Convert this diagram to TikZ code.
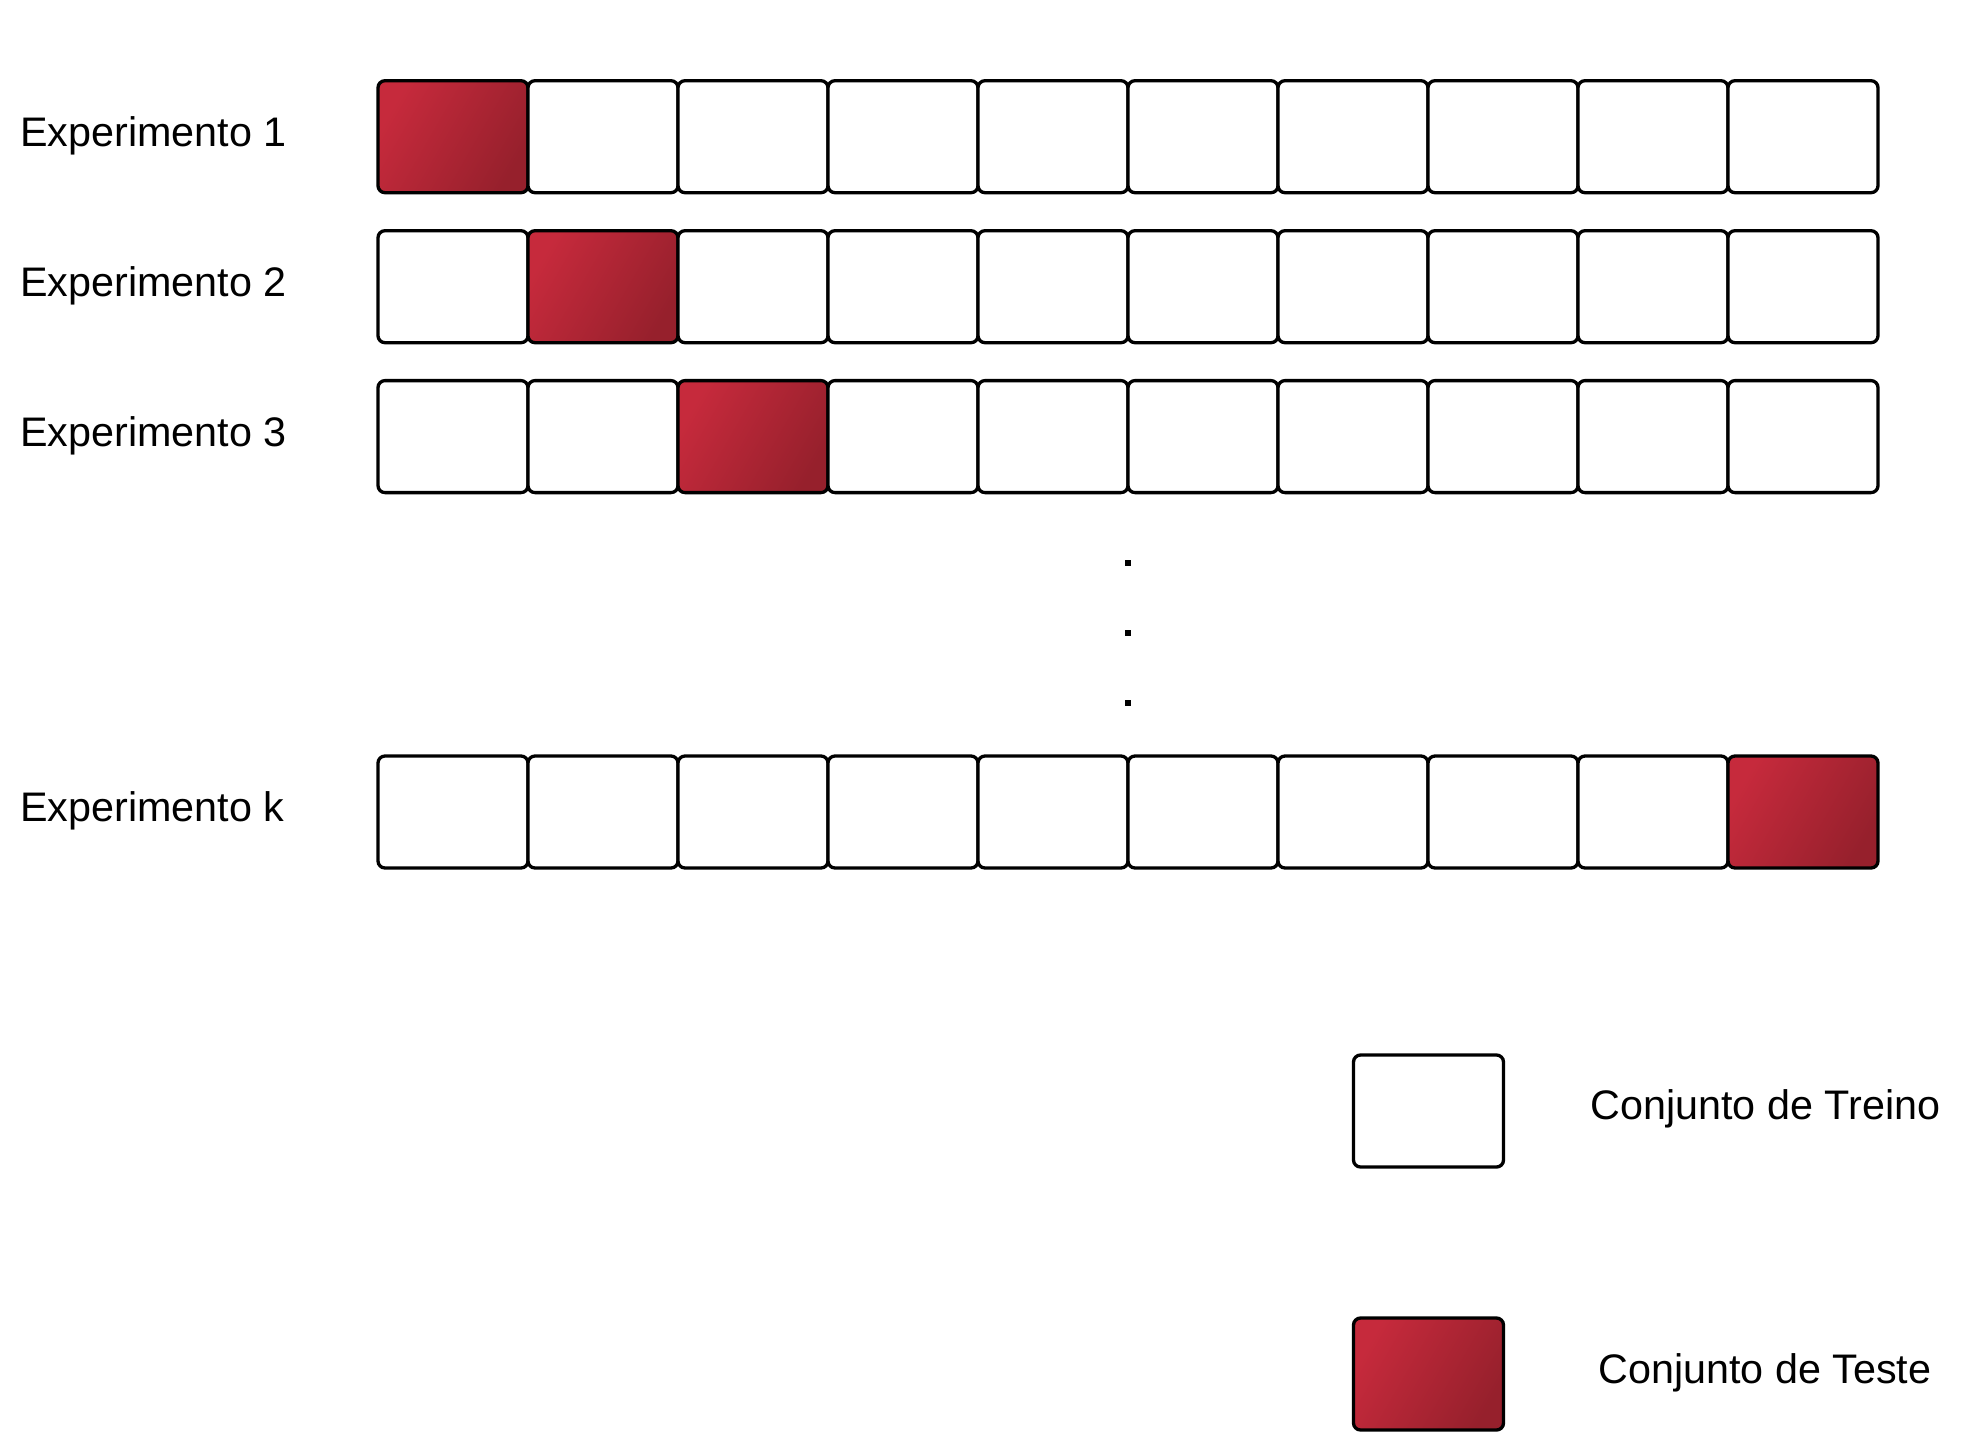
\documentclass[tikz,border=0pt]{standalone}
\usepackage{fontspec}
\setmainfont{Liberation Sans}
\definecolor{redA}{RGB}{198,42,60}
\definecolor{redB}{RGB}{150,32,44}
\tikzset{
  cellbox/.style={draw=black, line width=3.3pt, rounded corners=7pt, minimum width=150pt, minimum height=112pt, inner sep=0pt, fill=white},
  testbox/.style={cellbox, top color=redA, bottom color=redB, shading angle=60},
  lbl/.style={font=\fontsize{41.3}{50}\selectfont, inner sep=0pt},
  dotmark/.style={fill=black, minimum size=6pt, inner sep=0pt}
}
\begin{document}
\begin{tikzpicture}[x=1pt,y=-1pt]
\useasboundingbox (0,0) rectangle (1976,1436);
% rows
\foreach \r/\yy/\t/\nm in {1/136.7/1/Experimento 1, 2/286.7/2/Experimento 2, 3/436.6/3/Experimento 3, 4/812/10/Experimento k}{
  \node[lbl, anchor=west] (lab\r) at (20,\yy-1) {\nm};
  \foreach \c in {1,...,10}{
    \ifnum\c=\t
      \node[testbox] (b\r-\c) at (378+150*\c-75,\yy) {};
    \else
      \node[cellbox] (b\r-\c) at (378+150*\c-75,\yy) {};
    \fi
  }
}
% dots
\node[dotmark] (d1) at (1128,563) {};
\node[dotmark] (d2) at (1128,633) {};
\node[dotmark] (d3) at (1128,703) {};
% legend
\node[cellbox] (legtrain) at (1428.5,1111) {};
\node[testbox] (legtest) at (1428.5,1374) {};
\node[lbl] (ltrain) at (1765.5,1109) {Conjunto de Treino};
\node[lbl] (ltest) at (1765,1373) {Conjunto de Teste};
\end{tikzpicture}
\end{document}
